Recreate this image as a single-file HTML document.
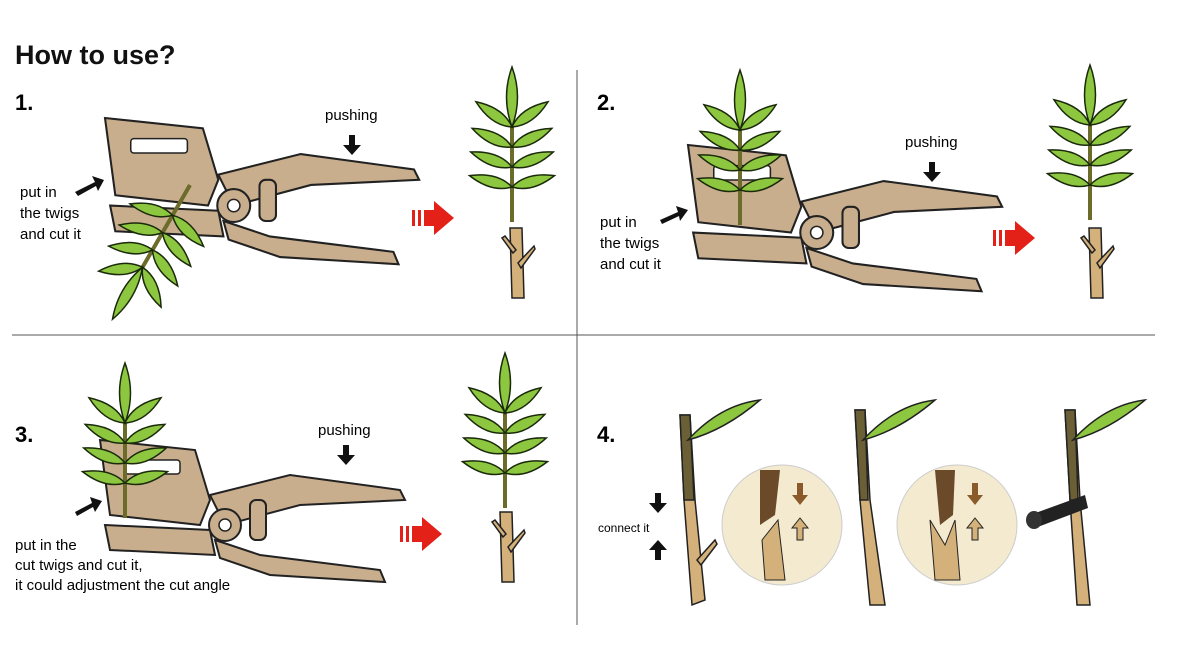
<!DOCTYPE html>
<html><head><meta charset="utf-8"><style>
html,body{margin:0;padding:0;background:#fff;}
svg{display:block;}
text{font-family:"Liberation Sans",sans-serif;}
</style></head><body>
<svg width="1198" height="671" viewBox="0 0 1198 671" xmlns="http://www.w3.org/2000/svg">
<defs>
  <g id="leaf"><path d="M0,0 Q18,-11 44,0 Q18,11 0,0Z" fill="#8dc63f" stroke="#1a2a0a" stroke-width="1.5"/></g>
  <g id="plantTop">
    <line x1="0" y1="0" x2="0" y2="-145" stroke="#6b6b2a" stroke-width="4"/>
    <path d="M0,-155 Q-11,-125 0,-95 Q11,-125 0,-155Z" fill="#8dc63f" stroke="#1a2a0a" stroke-width="1.5"/>
    <use href="#leaf" transform="translate(0,-95) rotate(-35)"/>
    <use href="#leaf" transform="translate(0,-95) rotate(215)"/>
    <use href="#leaf" transform="translate(0,-75) rotate(-25)"/>
    <use href="#leaf" transform="translate(0,-75) rotate(205)"/>
    <use href="#leaf" transform="translate(0,-55) rotate(-20)"/>
    <use href="#leaf" transform="translate(0,-55) rotate(200)"/>
    <use href="#leaf" transform="translate(0,-35) rotate(-15)"/>
    <use href="#leaf" transform="translate(0,-35) rotate(195)"/>
  </g>
  <g id="stock">
    <path d="M-6,0 L6,0 L8,70 L-4,70Z" fill="#d4b07a" stroke="#222" stroke-width="1.5"/>
    <path d="M2,35 L18,18 L19,21 L5,40Z" fill="#d4b07a" stroke="#222" stroke-width="1.5"/>
    <path d="M-3,25 L-14,10 L-11,8 L0,22Z" fill="#d4b07a" stroke="#222" stroke-width="1.5"/>
  </g>
  <g id="redarrow">
    <rect x="0" y="-8" width="3" height="16" fill="#e32119"/>
    <rect x="6" y="-8" width="3" height="16" fill="#e32119"/>
    <rect x="12" y="-8" width="10" height="16" fill="#e32119"/>
    <path d="M22,-17 L42,0 L22,17Z" fill="#e32119"/>
  </g>
  <g id="pusharrow"><rect x="-3" y="0" width="6" height="10" fill="#111"/><path d="M-9,10 L9,10 L0,20Z" fill="#111"/></g>
  <g id="pliers">
    <path d="M0,0 L95,10 L110,60 L100,85 L10,75 Z" fill="#c9ae8e" stroke="#222" stroke-width="2"/>
    <rect x="25" y="20" width="55" height="14" rx="3" fill="#fff" stroke="#222" stroke-width="1.5"/>
    <path d="M5,85 L110,90 L115,115 L10,110Z" fill="#c9ae8e" stroke="#222" stroke-width="2"/>
    <path d="M110,55 L190,35 L300,50 L305,60 L200,65 L125,85Z" fill="#c9ae8e" stroke="#222" stroke-width="2"/>
    <path d="M115,100 L160,115 L280,130 L285,142 L170,135 L120,118Z" fill="#c9ae8e" stroke="#222" stroke-width="2"/>
    <circle cx="125" cy="85" r="16" fill="#c9ae8e" stroke="#222" stroke-width="2"/>
    <circle cx="125" cy="85" r="6" fill="#fff" stroke="#222" stroke-width="1.5"/>
    <rect x="150" y="60" width="16" height="40" rx="6" fill="#c9ae8e" stroke="#222" stroke-width="2"/>
  </g>
</defs>

<text x="15" y="64" font-size="27" font-weight="bold" fill="#111">How to use?</text>
<line x1="577" y1="70" x2="577" y2="625" stroke="#555" stroke-width="1"/>
<line x1="12" y1="335" x2="1155" y2="335" stroke="#555" stroke-width="1"/>

<text x="15" y="110" font-size="22" font-weight="bold">1.</text>
<text x="597" y="110" font-size="22" font-weight="bold">2.</text>
<text x="15" y="442" font-size="22" font-weight="bold">3.</text>
<text x="597" y="442" font-size="22" font-weight="bold">4.</text>

<!-- panel 1 -->
<use href="#pliers" transform="translate(105,118) scale(1.03)"/>
<g transform="translate(190,185) rotate(210)"><use href="#plantTop"/></g>
<text x="325" y="120" font-size="15">pushing</text>
<use href="#pusharrow" transform="translate(352,135)"/>
<text x="20" y="197" font-size="15">put in</text>
<text x="20" y="218" font-size="15">the twigs</text>
<text x="20" y="239" font-size="15">and cut it</text>
<path d="M75,192 L95,182 L92,176 L104,180 L98,191 L96,186 L78,196Z" fill="#111"/>
<use href="#redarrow" transform="translate(412,218)"/>
<use href="#plantTop" transform="translate(512,222)"/>
<use href="#stock" transform="translate(516,228)"/>

<!-- panel 2 -->
<use href="#pliers" transform="translate(688,145) scale(1.03)"/>
<use href="#plantTop" transform="translate(740,225)"/>
<text x="905" y="147" font-size="15">pushing</text>
<use href="#pusharrow" transform="translate(932,162)"/>
<text x="600" y="227" font-size="15">put in</text>
<text x="600" y="248" font-size="15">the twigs</text>
<text x="600" y="269" font-size="15">and cut it</text>
<path d="M660,220 L678,212 L676,206 L688,210 L680,221 L679,216 L662,224Z" fill="#111"/>
<use href="#redarrow" transform="translate(993,238)"/>
<use href="#plantTop" transform="translate(1090,220)"/>
<use href="#stock" transform="translate(1095,228)"/>

<!-- panel 3 -->
<use href="#pliers" transform="translate(100,440)"/>
<use href="#plantTop" transform="translate(125,518)"/>
<text x="318" y="435" font-size="15">pushing</text>
<use href="#pusharrow" transform="translate(346,445)"/>
<text x="15" y="550" font-size="15">put in the</text>
<text x="15" y="570" font-size="15">cut twigs and cut it,</text>
<text x="15" y="590" font-size="15">it could adjustment the cut angle</text>
<path d="M75,512 L92,503 L90,497 L102,501 L95,512 L93,507 L77,516Z" fill="#111"/>
<use href="#redarrow" transform="translate(400,534)"/>
<use href="#plantTop" transform="translate(505,508)"/>
<use href="#stock" transform="translate(506,512)"/>

<!-- panel 4 -->
<g>
  <path d="M680,415 L690,415 L695,500 L705,600 L692,605 L684,500Z" fill="#d4b07a" stroke="#222" stroke-width="1.5"/>
  <path d="M680,415 L690,415 L694,500 L684,500Z" fill="#6b6035" stroke="#222" stroke-width="1.5"/>
  <path d="M688,440 Q720,405 760,400 Q725,430 688,440Z" fill="#8dc63f" stroke="#222" stroke-width="1.5"/>
  <path d="M697,560 L715,540 L717,544 L701,565Z" fill="#d4b07a" stroke="#222" stroke-width="1.5"/>
  <circle cx="782" cy="525" r="60" fill="#f3ead0" stroke="#ccc" stroke-width="1"/>
  <path d="M760,470 L780,470 L775,515 L760,525Z" fill="#6b4a2a"/>
  <path d="M762,540 L778,520 L785,580 L765,580Z" fill="#d4b07a" stroke="#222"/>
  <path d="M797,483 L797,495 L792,495 L800,505 L808,495 L803,495 L803,483Z" fill="#8b5a2b"/>
  <path d="M797,540 L797,528 L792,528 L800,518 L808,528 L803,528 L803,540Z" fill="#d4b07a" stroke="#222"/>
  <text x="598" y="532" font-size="12">connect it</text>
  <use href="#pusharrow" transform="translate(658,493)"/>
  <use href="#pusharrow" transform="translate(658,560) rotate(180)"/>
</g>
<g>
  <path d="M855,410 L865,410 L870,500 L885,605 L870,605 L860,500Z" fill="#d4b07a" stroke="#222" stroke-width="1.5"/>
  <path d="M855,410 L865,410 L868,500 L860,500Z" fill="#6b6035" stroke="#222" stroke-width="1.5"/>
  <path d="M863,440 Q895,405 935,400 Q900,430 863,440Z" fill="#8dc63f" stroke="#222" stroke-width="1.5"/>
  <circle cx="957" cy="525" r="60" fill="#f3ead0" stroke="#ccc" stroke-width="1"/>
  <path d="M935,470 L955,470 L953,515 L940,525Z" fill="#6b4a2a"/>
  <path d="M930,520 L945,545 L955,520 L960,580 L935,580Z" fill="#d4b07a" stroke="#222"/>
  <path d="M972,483 L972,495 L967,495 L975,505 L983,495 L978,495 L978,483Z" fill="#8b5a2b"/>
  <path d="M972,540 L972,528 L967,528 L975,518 L983,528 L978,528 L978,540Z" fill="#d4b07a" stroke="#222"/>
</g>
<g>
  <path d="M1065,410 L1075,410 L1080,500 L1090,605 L1077,605 L1070,500Z" fill="#d4b07a" stroke="#222" stroke-width="1.5"/>
  <path d="M1065,410 L1075,410 L1078,500 L1070,500Z" fill="#6b6035" stroke="#222" stroke-width="1.5"/>
  <path d="M1073,440 Q1105,405 1145,400 Q1110,430 1073,440Z" fill="#8dc63f" stroke="#222" stroke-width="1.5"/>
  <path d="M1030,515 L1085,495 L1088,508 L1035,528Z" fill="#222"/>
  <ellipse cx="1034" cy="520" rx="8" ry="9" fill="#333"/>
</g>
</svg>
</body></html>
